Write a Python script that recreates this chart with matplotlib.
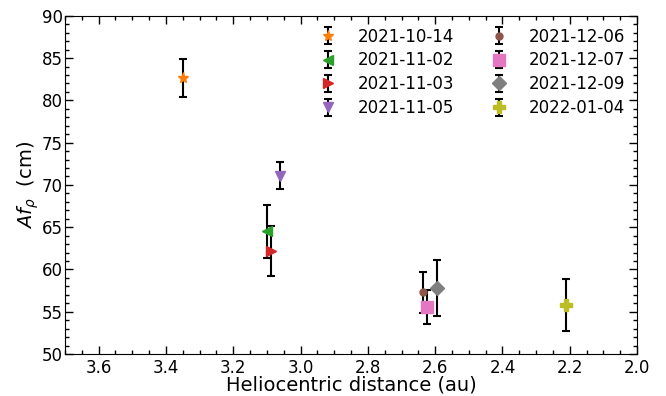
import matplotlib
matplotlib.use('Agg')
import matplotlib.pyplot as plt
from matplotlib.ticker import MultipleLocator

# observation dates, heliocentric distance (au), Af_rho (cm) and errors
dates = ['2021-10-14', '2021-11-02', '2021-11-03', '2021-11-05',
         '2021-12-06', '2021-12-07', '2021-12-09', '2022-01-04']
rh = [3.35, 3.10, 3.088, 3.062, 2.635, 2.625, 2.594, 2.21]
afrho = [82.7, 64.5, 62.2, 71.1, 57.3, 55.6, 57.8, 55.8]
afrho_err = [2.25, 3.1, 3.0, 1.6, 2.4, 2.0, 3.3, 3.1]

markers = ['*', '<', '>', 'v', 'o', 's', 'D', 'P']
colors = ['C1', 'C2', 'C3', 'C4', 'C5', 'C6', 'C7', 'C8']
msizes = [8, 7, 7, 7, 5, 8, 7, 9]

fig = plt.figure(figsize=(6.66, 3.96), dpi=100)
ax = fig.add_axes([0.0976, 0.106, 0.859, 0.854])

for i in range(len(dates)):
    ax.errorbar(rh[i], afrho[i], yerr=afrho_err[i], fmt=markers[i],
                color=colors[i], ms=msizes[i], ecolor='k', elinewidth=1.5,
                capsize=3, capthick=1.5, label=dates[i])

ax.set_xlim(3.7, 2.0)
ax.set_ylim(50, 90)
ax.xaxis.set_major_locator(MultipleLocator(0.2))
ax.xaxis.set_minor_locator(MultipleLocator(0.05))
ax.yaxis.set_major_locator(MultipleLocator(5))
ax.yaxis.set_minor_locator(MultipleLocator(1))
ax.tick_params(which='both', direction='in', top=True, right=True, labelsize=12)
ax.tick_params(which='major', length=6, width=1)
ax.tick_params(which='minor', length=3, width=1)
ax.tick_params(axis='y', which='major', pad=1.5)

ax.set_xlabel('Heliocentric distance (au)', fontsize=14, labelpad=-1)
ax.set_ylabel(r'$Af_\rho$  (cm)', fontsize=14, labelpad=1)

ax.legend(ncol=2, frameon=False, loc='upper right', fontsize=12,
          handletextpad=0.8, columnspacing=1.7, labelspacing=0.35,
          borderaxespad=0.3)

fig.savefig('out.png', dpi=100)
